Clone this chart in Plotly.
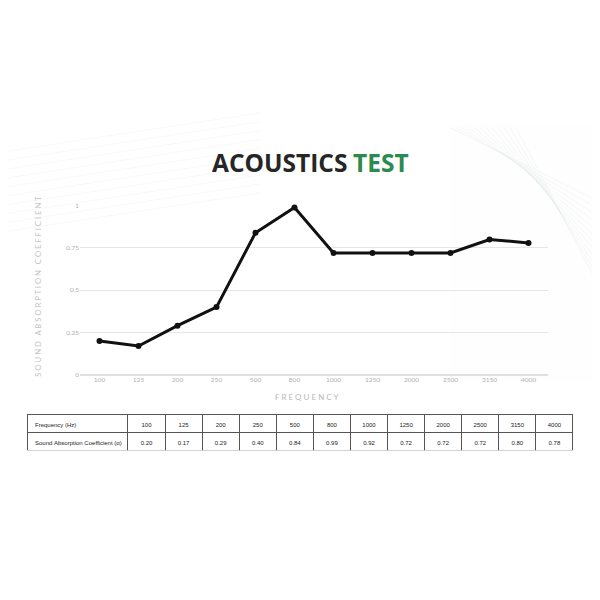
import plotly.graph_objects as go

frequencies = ["100", "125", "200", "250", "500", "800", "1000", "1250", "2000", "2500", "3150", "4000"]
line_values = [0.20, 0.17, 0.29, 0.40, 0.84, 0.99, 0.72, 0.72, 0.72, 0.72, 0.80, 0.78]
table_values = ["0.20", "0.17", "0.29", "0.40", "0.84", "0.99", "0.92", "0.72", "0.72", "0.72", "0.80", "0.78"]
y_tick_vals = [0, 0.25, 0.5, 0.75, 1]
y_tick_text = ["0", "0.25", "0.5", "0.75", "1"]
row_labels = ["Frequency (Hz)", "Sound Absorption Coefficient (α)"]

W = H = 600
OFF = 8  # page body offset
def px(x):
    return (x - OFF) / W
def py(y):
    return 1 - (y - OFF) / H

def nb(s):
    return s.replace(" ", "\u00a0")

fig = go.Figure()

fig.add_trace(go.Scatter(
    x=frequencies, y=line_values, mode="lines+markers",
    line=dict(color="#111111", width=3),
    marker=dict(color="#111111", size=6),
    cliponaxis=False, showlegend=False, hoverinfo="x+y",
))

tfont = dict(family="Liberation Sans, Arial", size=6, color="#222222")
fig.add_trace(go.Table(
    domain=dict(x=[px(27), px(573)], y=[py(452), py(415)]),
    columnwidth=[101] + [37.1] * 12,
    header=dict(
        values=[nb(row_labels[0])] + frequencies,
        align=["left"] + ["center"] * 12,
        fill_color="white",
        line=dict(color="#555555", width=1),
        font=tfont,
        height=18,
    ),
    cells=dict(
        values=[[nb(row_labels[1])]] + [[v] for v in table_values],
        align=["left"] + ["center"] * 12,
        fill_color="white",
        line=dict(color="#555555", width=1),
        font=tfont,
        height=18,
    ),
))

shapes = [
    dict(type="rect", xref="paper", yref="paper",
         x0=px(450), y0=py(380), x1=px(608), y1=py(122),
         fillcolor="rgba(235,235,235,0.07)", line=dict(width=0), layer="below"),
]
for i in range(10):
    shapes.append(dict(type="line", xref="paper", yref="paper",
                       x0=px(0), y0=py(150 + i * 9), x1=px(260), y1=py(110 + i * 9),
                       line=dict(color="rgba(200,200,200,0.12)", width=1), layer="below"))
for i in range(12):
    shapes.append(dict(type="line", xref="paper", yref="paper",
                       x0=px(450 + i * 6), y0=py(125), x1=px(600), y1=py(200 + i * 8),
                       line=dict(color="rgba(160,190,170,0.10)", width=1), layer="below"))

title_font = dict(family="Open Sans, Noto Sans", size=24.5)
annotations = [
    dict(text="<b>ACOUSTICS</b>", x=px(349), y=py(160), xref="paper", yref="paper",
         xanchor="right", yanchor="middle", showarrow=False,
         font=dict(color="#262626", **title_font)),
    dict(text="<b>TEST</b>", x=px(351), y=py(160), xref="paper", yref="paper",
         xanchor="left", yanchor="middle", showarrow=False,
         font=dict(color="#2d8a4e", **title_font)),
    dict(text="S O U N D   A B S O R P T I O N   C O E F F I C I E N T", textangle=-90,
         x=px(38), y=py(286), xref="paper", yref="paper", showarrow=False,
         xanchor="center", yanchor="middle",
         font=dict(family="Lato, Open Sans", size=7.7, color="#c4c4c4")),
    dict(text="F R E Q U E N C Y",
         x=px(306), y=py(398), xref="paper", yref="paper", showarrow=False,
         xanchor="center", yanchor="middle",
         font=dict(family="Lato, Open Sans", size=8, color="#b8b8b8")),
]

fig.update_layout(
    width=W, height=H, margin=dict(l=0, r=0, t=0, b=0),
    paper_bgcolor="white", plot_bgcolor="rgba(0,0,0,0)",
    shapes=shapes, annotations=annotations,
    xaxis=dict(domain=[px(80), px(548)], type="category", range=[-0.5, 11.5],
               showgrid=False, zeroline=False, showline=False, ticks="",
               tickfont=dict(family="Lato, Open Sans", size=6.5, color="#b0b0b0"),
               anchor="y"),
    yaxis=dict(domain=[py(375), py(204)], range=[0, 1],
               tickvals=y_tick_vals, ticktext=y_tick_text,
               showgrid=True, gridcolor="#e6e6e6", gridwidth=1,
               zeroline=True, zerolinecolor="#e0e0e0", zerolinewidth=1.5,
               showline=False, ticks="",
               tickfont=dict(family="Lato, Open Sans", size=6.5, color="#b0b0b0"),
               anchor="x"),
)

fig.write_html("out.html")
